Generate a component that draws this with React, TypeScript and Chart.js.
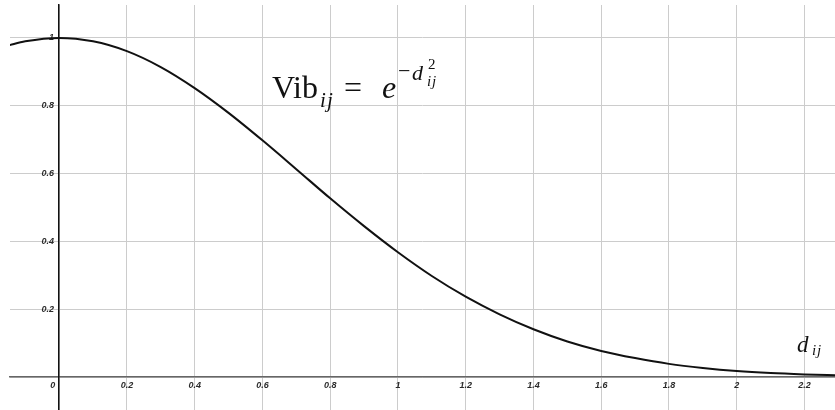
import React, { useEffect, useRef } from 'react';
import { Chart, registerables } from 'chart.js';

Chart.register(...registerables);

const distances = [
  -0.15, -0.1, 0, 0.1, 0.2, 0.3, 0.4, 0.5, 0.6, 0.7, 0.8, 0.9, 1.0, 1.1, 1.2,
  1.3, 1.4, 1.5, 1.6, 1.7, 1.8, 1.9, 2.0, 2.1, 2.2, 2.3,
];
const vibration = [
  0.978, 0.99, 1.0, 0.99, 0.961, 0.914, 0.852, 0.779, 0.698, 0.613, 0.527,
  0.445, 0.368, 0.298, 0.237, 0.185, 0.141, 0.105, 0.077, 0.056, 0.039,
  0.027, 0.018, 0.012, 0.008, 0.005,
];

// Axis ticks and their labels
const xTickValues = [0, 0.2, 0.4, 0.6, 0.8, 1, 1.2, 1.4, 1.6, 1.8, 2, 2.2];
const xTickLabels = ['0', '0.2', '0.4', '0.6', '0.8', '1', '1.2', '1.4', '1.6', '1.8', '2', '2.2'];
const yTickValues = [0, 0.2, 0.4, 0.6, 0.8, 1];
const yTickLabels = ['', '0.2', '0.4', '0.6', '0.8', '1'];

// Visible window of the plane
const X_MIN = -0.145;
const X_MAX = 2.29;
const Y_MIN = -0.097;
const Y_MAX = 1.097;

type Run = { text: string; dx: number; dy: number; size: number; italic?: boolean };

// Vib_ij = e^{-d_ij^2}, laid out piece by piece from its baseline origin
const formulaAnchor = { x: 0.628, y: 0.823 };
const formulaRuns: Run[] = [
  { text: 'Vib', dx: 0, dy: 0, size: 32 },
  { text: 'i', dx: 48, dy: 9, size: 21, italic: true },
  { text: 'j', dx: 55, dy: 9, size: 21, italic: true },
  { text: '=', dx: 72, dy: 0, size: 32 },
  { text: 'e', dx: 110, dy: 0, size: 32, italic: true },
  { text: '\u2212', dx: 126, dy: -20, size: 22 },
  { text: 'd', dx: 140, dy: -18, size: 22, italic: true },
  { text: '2', dx: 156, dy: -29, size: 15 },
  { text: 'i', dx: 155, dy: -12, size: 15, italic: true },
  { text: 'j', dx: 160, dy: -12, size: 15, italic: true },
];

// Axis name d_ij near the end of the horizontal axis
const axisNameAnchor = { x: 2.178, y: 0.074 };
const axisNameRuns: Run[] = [
  { text: 'd', dx: 0, dy: 0, size: 23, italic: true },
  { text: 'i', dx: 15, dy: 3, size: 15, italic: true },
  { text: 'j', dx: 20, dy: 3, size: 15, italic: true },
];

const mathTextPlugin = {
  id: 'mathText',
  afterDatasetsDraw(chart: any) {
    const { ctx, scales } = chart;
    const drawRuns = (anchor: { x: number; y: number }, runs: Run[]) => {
      const x0 = scales.x.getPixelForValue(anchor.x);
      const y0 = scales.y.getPixelForValue(anchor.y);
      ctx.save();
      ctx.fillStyle = '#111111';
      ctx.textAlign = 'left';
      ctx.textBaseline = 'alphabetic';
      for (const r of runs) {
        ctx.font = `${r.italic ? 'italic ' : ''}${r.size}px "Liberation Serif", "Times New Roman", serif`;
        ctx.fillText(r.text, x0 + r.dx, y0 + r.dy);
      }
      ctx.restore();
    };
    drawRuns(formulaAnchor, formulaRuns);
    drawRuns(axisNameAnchor, axisNameRuns);
  },
};

const tickFont = {
  family: '"Liberation Sans", Arial, sans-serif',
  size: 9,
  style: 'italic' as const,
  weight: 'bold' as const,
};

// Axes crossing inside the plot should not push the plot edges inward
const noEdgePadding = (scale: any) => {
  scale.paddingTop = 0;
  scale.paddingBottom = 0;
  scale.paddingLeft = 0;
  scale.paddingRight = 0;
};

export default function App() {
  const canvasRef = useRef<HTMLCanvasElement | null>(null);

  useEffect(() => {
    document.body.style.margin = '0';
    const canvas = canvasRef.current;
    if (!canvas) return;

    const chart = new Chart(canvas, {
      type: 'line',
      data: {
        datasets: [
          {
            data: distances.map((d, i) => ({ x: d, y: vibration[i] })),
            borderColor: '#111111',
            borderWidth: 2,
            pointRadius: 0,
            cubicInterpolationMode: 'monotone',
            fill: false,
          },
        ],
      },
      options: {
        responsive: false,
        animation: false,
        layout: { padding: { left: 10, top: 5, right: 0, bottom: 0 } },
        plugins: {
          legend: { display: false },
          tooltip: { enabled: false },
        },
        scales: {
          x: {
            type: 'linear',
            position: { y: 0 } as any,
            min: X_MIN,
            max: X_MAX,
            afterBuildTicks: (scale: any) => {
              scale.ticks = xTickValues.map((value) => ({ value }));
            },
            afterFit: noEdgePadding,
            ticks: {
              autoSkip: false,
              maxRotation: 0,
              padding: 3,
              color: '#2a2a2a',
              font: tickFont,
              // the origin label sits just left of the vertical axis
              callback: (_v: any, i: number) =>
                i === 0 ? xTickLabels[i] + '\u00a0'.repeat(5) : xTickLabels[i],
            },
            grid: { color: '#cccccc', lineWidth: 1, drawTicks: false },
            border: { display: true, color: '#666666', width: 1.5 },
          },
          y: {
            type: 'linear',
            position: { x: 0 } as any,
            min: Y_MIN,
            max: Y_MAX,
            afterBuildTicks: (scale: any) => {
              scale.ticks = yTickValues.map((value) => ({ value }));
            },
            afterFit: noEdgePadding,
            ticks: {
              autoSkip: false,
              padding: 5,
              color: '#2a2a2a',
              font: tickFont,
              // small gap between the labels and the vertical axis
              callback: (_v: any, i: number) =>
                yTickLabels[i] ? yTickLabels[i] + '\u00a0\u00a0' : '',
            },
            grid: { color: '#cccccc', lineWidth: 1, drawTicks: false },
            border: { display: true, color: '#111111', width: 1.5 },
          },
        },
      },
      plugins: [mathTextPlugin],
    });

    return () => chart.destroy();
  }, []);

  return (
    <div style={{ width: 835, height: 410, background: '#ffffff' }}>
      <canvas ref={canvasRef} width={835} height={410} style={{ display: 'block' }} />
    </div>
  );
}
